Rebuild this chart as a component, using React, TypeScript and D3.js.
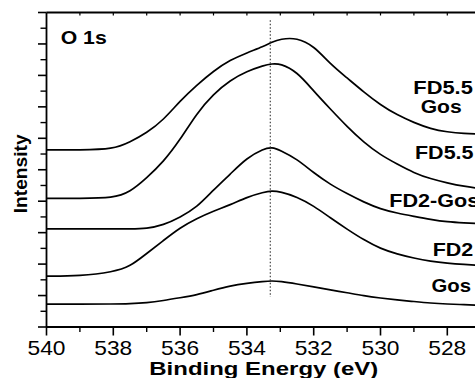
import React from "react";
import * as d3 from "d3";

const energies = [540, 539, 538, 537.5, 537, 536.5, 536, 535.5, 535, 534.5, 534, 533.5, 533.25, 533, 532.5, 532, 531.5, 531, 530.5, 530, 529.5, 529, 528.5, 528, 527.5, 527];
const fd55Gos = [5.63, 5.63, 5.65, 5.88, 6.17, 6.58, 7.19, 7.69, 8.14, 8.49, 8.72, 8.92, 9.06, 9.16, 9.2, 8.94, 8.36, 7.92, 7.47, 7.06, 6.74, 6.5, 6.3, 6.2, 6.15, 6.14];
const fd55 = [4.09, 4.09, 4.1, 4.29, 4.74, 5.25, 5.95, 6.8, 7.41, 7.85, 8.13, 8.32, 8.37, 8.38, 8.12, 7.5, 6.93, 6.37, 5.87, 5.47, 5.18, 4.9, 4.71, 4.58, 4.47, 4.4];
const fd2Gos = [3.12, 3.12, 3.12, 3.12, 3.13, 3.24, 3.49, 3.8, 4.36, 4.86, 5.38, 5.67, 5.72, 5.62, 5.34, 4.9, 4.53, 4.24, 3.97, 3.75, 3.62, 3.52, 3.42, 3.34, 3.31, 3.29];
const fd2 = [1.62, 1.62, 1.75, 1.92, 2.34, 2.75, 3.16, 3.45, 3.69, 3.88, 4.13, 4.29, 4.33, 4.3, 4.14, 3.85, 3.47, 3.11, 2.77, 2.49, 2.32, 2.19, 2.09, 2.03, 1.99, 1.96];
const gos = [0.73, 0.73, 0.73, 0.74, 0.77, 0.84, 0.93, 1.02, 1.17, 1.31, 1.39, 1.45, 1.47, 1.45, 1.37, 1.28, 1.18, 1.09, 0.99, 0.92, 0.86, 0.81, 0.76, 0.73, 0.71, 0.69];
const seriesNames = ["FD5.5-Gos", "FD5.5", "FD2-Gos", "FD2", "Gos"];
const xMajorTicks = [540, 538, 536, 534, 532, 530, 528];
const xMinorTicks = [539, 537, 535, 533, 531, 529, 527];
const peakEnergy = 533.3;
const panelTitle = "O 1s";
const xTitle = "Binding Energy (eV)";
const yTitle = "Intensity";

const W = 475;
const H = 378;
const FONT = "'Liberation Sans', Arial, Helvetica, sans-serif";

export default function App() {
  const x = d3.scaleLinear().domain([540, 526]).range([46.5, 46.5 + 14 * 33.4]);
  const y = d3.scaleLinear().domain([0, 10]).range([327, 12.5]);
  const series = [fd55Gos, fd55, fd2Gos, fd2, gos];
  const line = d3
    .line<[number, number]>()
    .x((d) => x(d[0]))
    .y((d) => y(d[1]))
    .curve(d3.curveBasis);

  const yMajor = d3.range(0, 10.01, 1);
  const yMinor = d3.range(0.5, 10, 1);
  const topTicks = d3.range(527, 540, 1);
  const x0 = x(540);
  const y0 = y(0);
  const yTop = y(10);

  const labelPos = [
    [
      { t: "FD5.5", x: 413.3, y: 94, len: 59.5 },
      { t: "Gos", x: 420.7, y: 113.3, len: 41 },
    ],
    [{ t: "FD5.5", x: 415, y: 159, len: 58.5 }],
    [{ t: "FD2-Gos", x: 389.3, y: 207, len: 90 }],
    [{ t: "FD2", x: 432.7, y: 256, len: 40.6 }],
    [{ t: "Gos", x: 431.5, y: 291.5, len: 39.5 }],
  ];

  return (
    <svg
      width={W}
      height={H}
      style={{ position: "absolute", left: 0, top: 0, background: "#fff", display: "block" }}
      fontFamily={FONT}
    >
      <rect x={0} y={0} width={W} height={H} fill="#fff" />
      {series.map((s, i) => (
        <path
          key={seriesNames[i]}
          d={line(energies.map((e, j) => [e, s[j]] as [number, number])) || ""}
          fill="none"
          stroke="#000"
          strokeWidth={1.7}
          strokeLinejoin="round"
        />
      ))}
      <line
        x1={x(peakEnergy)}
        x2={x(peakEnergy)}
        y1={y(9.75)}
        y2={y(0.95)}
        stroke="#333"
        strokeWidth={1.1}
        strokeDasharray="1.3,2.2"
      />
      <line x1={x0} x2={W + 10} y1={y0} y2={y0} stroke="#000" strokeWidth={1.8} />
      <line x1={x0} x2={W + 10} y1={yTop} y2={yTop} stroke="#000" strokeWidth={1.8} />
      <line x1={x0} x2={x0} y1={yTop} y2={y0} stroke="#000" strokeWidth={1.8} />
      {yMajor.map((v) => (
        <line key={"ym" + v} x1={x0 - 8.5} x2={x0} y1={y(v)} y2={y(v)} stroke="#000" strokeWidth={1.6} />
      ))}
      {yMinor.map((v) => (
        <line key={"yn" + v} x1={x0 - 6} x2={x0} y1={y(v)} y2={y(v)} stroke="#000" strokeWidth={1.4} />
      ))}
      {xMajorTicks.map((e) => (
        <line key={"xm" + e} x1={x(e)} x2={x(e)} y1={y0} y2={y0 + 8.5} stroke="#000" strokeWidth={1.6} />
      ))}
      {xMinorTicks.map((e) => (
        <line key={"xn" + e} x1={x(e)} x2={x(e)} y1={y0} y2={y0 + 5} stroke="#000" strokeWidth={1.4} />
      ))}
      {topTicks.map((e) => (
        <line key={"xt" + e} x1={x(e)} x2={x(e)} y1={yTop} y2={yTop + 3} stroke="#000" strokeWidth={1.2} />
      ))}
      {xMajorTicks.map((e) => (
        <text
          key={"xl" + e}
          x={x(e)}
          y={354.5}
          textAnchor="middle"
          fontSize={21}
          textLength={38}
          lengthAdjust="spacingAndGlyphs"
          fill="#000"
        >
          {e}
        </text>
      ))}
      <text
        x={149.3}
        y={374.5}
        fontSize={19}
        fontWeight="bold"
        textLength={229}
        lengthAdjust="spacingAndGlyphs"
        fill="#000"
      >
        {xTitle}
      </text>
      <text
        transform={`translate(26.7,213.3) rotate(-90)`}
        x={0}
        y={0}
        fontSize={18.5}
        fontWeight="bold"
        textLength={79}
        lengthAdjust="spacingAndGlyphs"
        fill="#000"
      >
        {yTitle}
      </text>
      <text
        x={60.7}
        y={43.5}
        fontSize={18.5}
        fontWeight="bold"
        textLength={46}
        lengthAdjust="spacingAndGlyphs"
        fill="#000"
      >
        {panelTitle}
      </text>
      {labelPos.map((group, i) =>
        group.map((l, k) => (
          <text
            key={seriesNames[i] + k}
            x={l.x}
            y={l.y}
            fontSize={18.5}
            fontWeight="bold"
            textLength={l.len}
            lengthAdjust="spacingAndGlyphs"
            fill="#000"
          >
            {l.t}
          </text>
        ))
      )}
    </svg>
  );
}
